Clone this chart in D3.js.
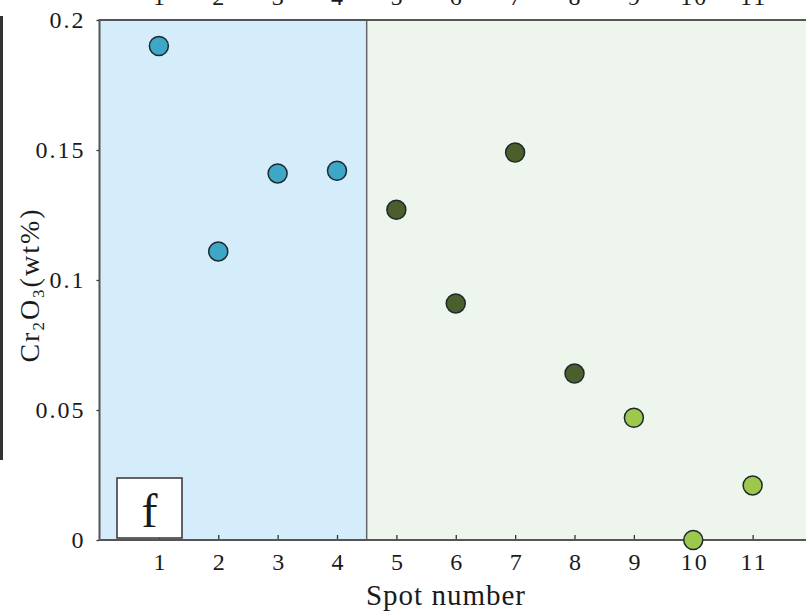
<!DOCTYPE html>
<html>
<head>
<meta charset="utf-8">
<script src="https://cdn.jsdelivr.net/npm/d3@7"></script>
<style>
  body { margin: 0; background: #fff; }
  text { font-family: "Liberation Serif", "DejaVu Serif", serif; fill: #1a1a1a; }
</style>
</head>
<body>
<div id="chart"></div>
<script>
// data
var spots = [1, 2, 3, 4, 5, 6, 7, 8, 9, 10, 11];
var cr2o3 = [0.190, 0.111, 0.141, 0.142, 0.127, 0.091, 0.149, 0.064, 0.047, 0.000, 0.021];
var groups = ["a", "a", "a", "a", "b", "b", "b", "b", "c", "c", "c"];
var yTicks = [0, 0.05, 0.1, 0.15, 0.2];
var yTickLabels = ["0", "0.05", "0.1", "0.15", "0.2"];
var regions = [{from: 0, to: 4.5, fill: "#d5ecfa"}, {from: 4.5, to: 12, fill: "#eef5ec"}];

var groupFill = {a: "#3ea6c6", b: "#4b5e2b", c: "#9dc84b"};

var width = 806, height = 614;
var margin = {top: 20, left: 99.5},
    plotRight = 812,
    plotBottom = 540;

var svg = d3.select("#chart").append("svg")
    .attr("width", width)
    .attr("height", height);

var x = d3.scaleLinear().domain([0, 12]).range([margin.left, plotRight]);
var y = d3.scaleLinear().domain([0, 0.2]).range([plotBottom, margin.top]);

// shaded regions
svg.selectAll("rect.region")
  .data(regions)
  .enter().append("rect")
    .attr("class", "region")
    .attr("x", function (d) { return x(d.from); })
    .attr("y", y(0.2))
    .attr("width", function (d) { return x(d.to) - x(d.from); })
    .attr("height", y(0) - y(0.2))
    .attr("fill", function (d) { return d.fill; });

// divider
svg.append("line")
    .attr("x1", x(4.5)).attr("x2", x(4.5))
    .attr("y1", y(0.2)).attr("y2", y(0))
    .style("stroke", "#666")
    .style("stroke-width", 1.5);

// leftover bits of neighbouring panels
svg.append("line")
    .attr("x1", 1.5).attr("x2", 1.5)
    .attr("y1", 16).attr("y2", 460)
    .style("stroke", "#333")
    .style("stroke-width", 3);

svg.selectAll("text.top_label")
  .data(spots)
  .enter().append("text")
    .attr("class", "top_label")
    .attr("x", function (d) { return x(d) + 1; })
    .attr("y", 5)
    .attr("text-anchor", "middle")
    .style("font-size", "24px")
    .style("letter-spacing", "2px")
    .text(function (d) { return d; });

// axes
var xAxis = svg.append("g")
    .attr("transform", "translate(0," + y(0) + ")")
    .call(d3.axisBottom(x).tickValues(spots).tickSizeInner(-5).tickSizeOuter(0).tickPadding(13));
var yAxis = svg.append("g")
    .attr("transform", "translate(" + margin.left + ",0)")
    .call(d3.axisLeft(y).tickValues(yTicks).tickSizeInner(3).tickSizeOuter(0).tickPadding(11)
      .tickFormat(function (d, i) { return yTickLabels[i]; }));

[xAxis, yAxis].forEach(function (g) {
  g.select(".domain").remove();
  g.selectAll(".tick line").style("stroke", "#333").style("stroke-width", 1.3);
  g.selectAll(".tick text")
    .style("font-size", "24px")
    .style("letter-spacing", "2px")
    .style("font-family", "Liberation Serif, serif")
    .attr("fill", "#1a1a1a");
});
xAxis.selectAll(".tick text").attr("dx", 1);

// frame
svg.append("rect")
    .attr("x", x(0))
    .attr("y", y(0.2))
    .attr("width", x(12) - x(0))
    .attr("height", y(0) - y(0.2))
    .attr("fill", "none")
    .style("stroke", "#555")
    .style("stroke-width", 2);

// points
svg.selectAll("circle.spot")
  .data(spots)
  .enter().append("circle")
    .attr("class", "spot")
    .attr("cx", function (d) { return x(d); })
    .attr("cy", function (d, i) { return y(cr2o3[i]); })
    .attr("r", 9.5)
    .attr("fill", function (d, i) { return groupFill[groups[i]]; })
    .style("stroke", "#1c2a30")
    .style("stroke-width", 1.5);

// panel letter
svg.append("rect")
    .attr("x", 117).attr("y", 478)
    .attr("width", 65).attr("height", 60)
    .attr("fill", "#fff")
    .style("stroke", "#333")
    .style("stroke-width", 1.5);
svg.append("text")
    .attr("x", 149.5).attr("y", 527)
    .attr("text-anchor", "middle")
    .style("font-size", "48px")
    .text("f");

// axis titles
svg.append("text")
    .attr("x", 446).attr("y", 605)
    .attr("text-anchor", "middle")
    .style("font-size", "29px")
    .style("letter-spacing", "1px")
    .text("Spot number");

var ylab = svg.append("text")
    .attr("transform", "translate(39,285) rotate(-90)")
    .attr("text-anchor", "middle")
    .style("font-size", "28px")
    .style("letter-spacing", "2px");
ylab.append("tspan").text("Cr");
ylab.append("tspan").attr("dy", 5).style("font-size", "17px").text("2");
ylab.append("tspan").attr("dy", -5).text("O");
ylab.append("tspan").attr("dy", 5).style("font-size", "17px").text("3");
ylab.append("tspan").attr("dy", -5).text("(wt%)");
</script>
</body>
</html>
